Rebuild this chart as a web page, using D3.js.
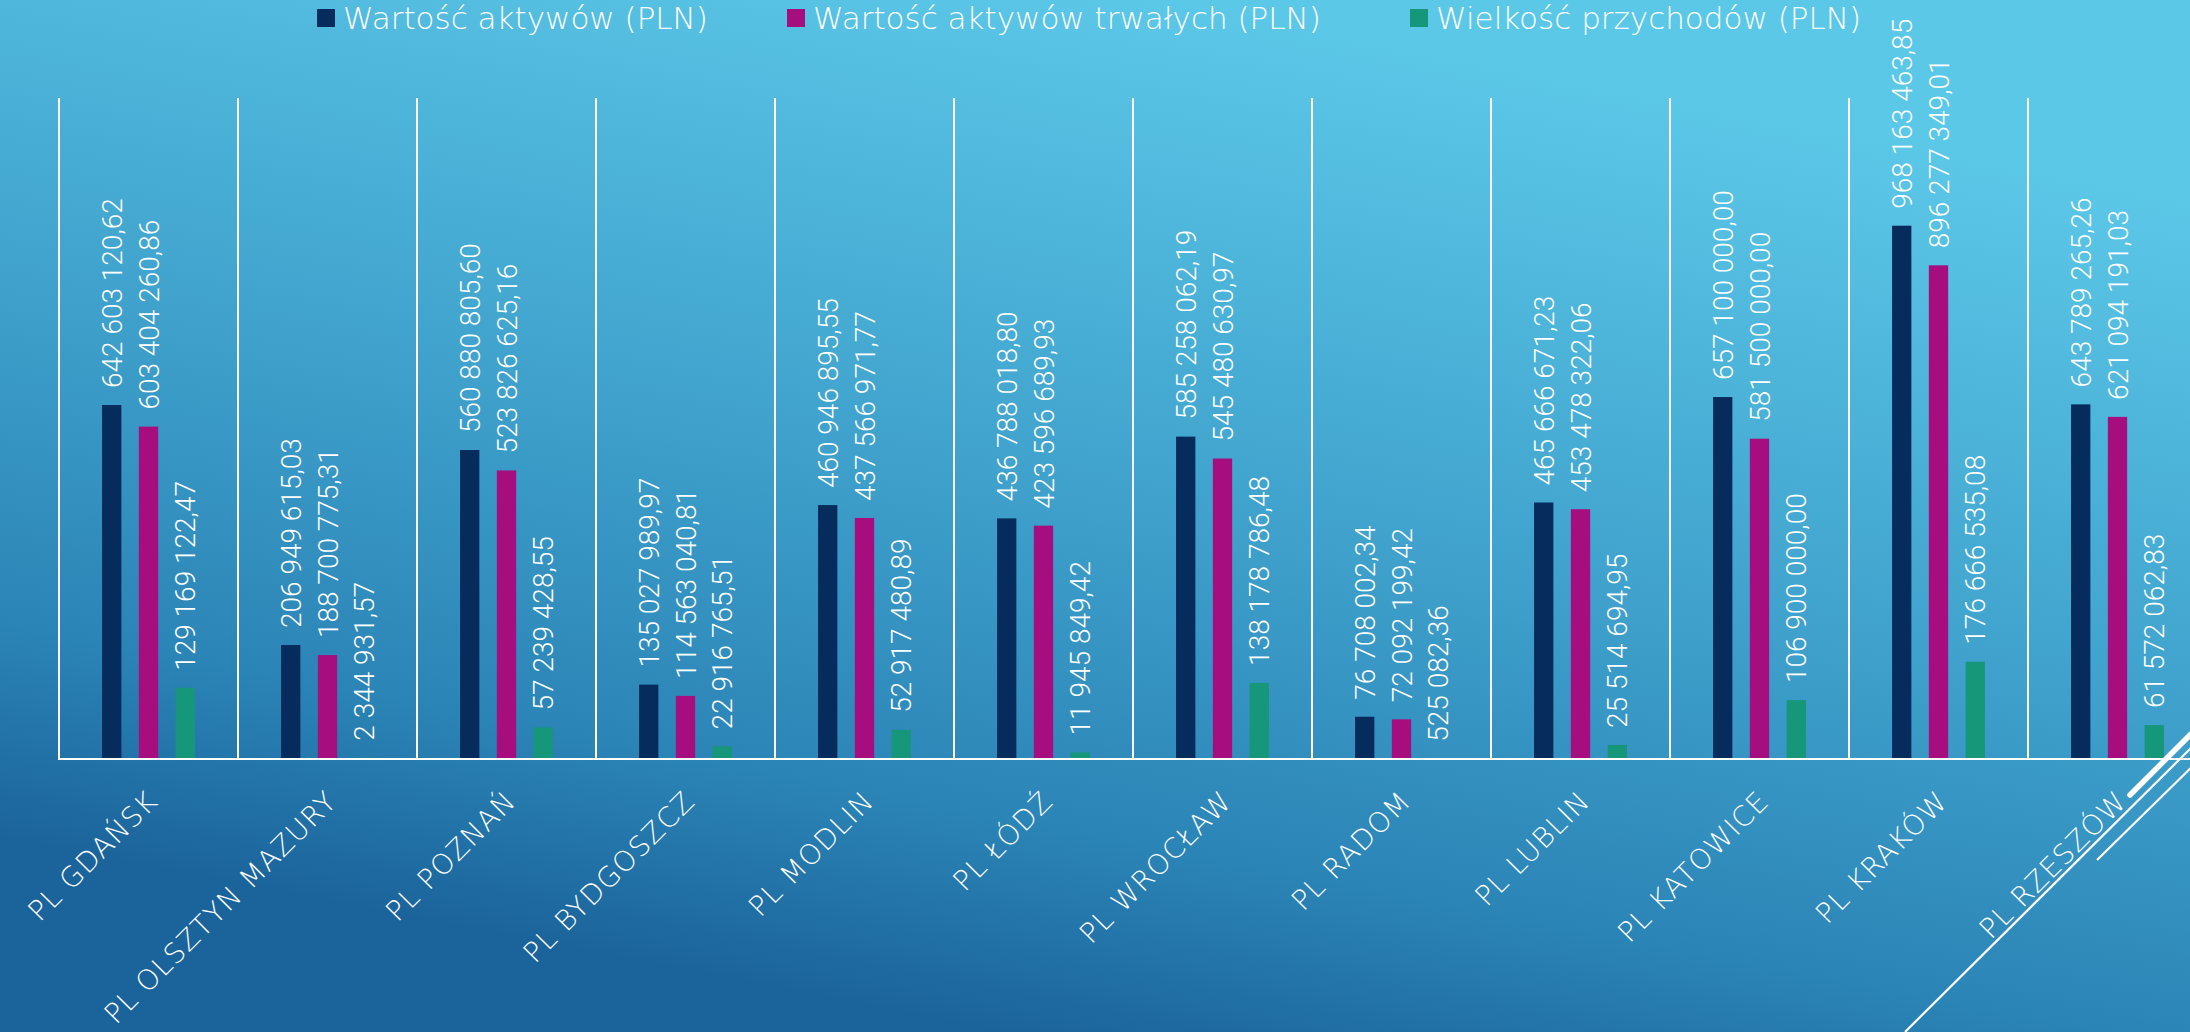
<!DOCTYPE html>
<html>
<head>
<meta charset="utf-8">
<script src="https://cdn.jsdelivr.net/npm/d3@7"></script>
<style>
  html, body { margin: 0; padding: 0; background: #2a86b8; }
  svg { display: block; }
</style>
</head>
<body>
<svg id="chart" width="2190" height="1032"></svg>
<script>
// ---- DATA ----
const categories = ["PL GDAŃSK", "PL OLSZTYN MAZURY", "PL POZNAŃ", "PL BYDGOSZCZ", "PL MODLIN", "PL ŁÓDŹ",
  "PL WROCŁAW", "PL RADOM", "PL LUBLIN", "PL KATOWICE", "PL KRAKÓW", "PL RZESZÓW"];
const seriesNames = ["Wartość aktywów (PLN)", "Wartość aktywów trwałych (PLN)", "Wielkość przychodów (PLN)"];
const assets = [642603120.62, 206949615.03, 560880805.60, 135027989.97, 460946895.55, 436788018.80,
  585258062.19, 76708002.34, 465666671.23, 657100000.00, 968163463.85, 643789265.26];
const fixedAssets = [603404260.86, 188700775.31, 523826625.16, 114563040.81, 437566971.77, 423596689.93,
  545480630.97, 72092199.42, 453478322.06, 581500000.00, 896277349.01, 621094191.03];
const revenues = [129169122.47, 2344931.57, 57239428.55, 22916765.51, 52917480.89, 11945849.42,
  138178786.48, 525082.36, 25514694.95, 106900000.00, 176666535.08, 61572062.83];
const seriesColors = ["#062c5d", "#a60e80", "#17977a"];
const yMax = 1.2e9;

// ---- LAYOUT ----
const W = 2190, H = 1032;
const plotLeft = 59, plotTop = 98, baseY = 759, catW = 179;
const legendX = [317, 787, 1410];

const svg = d3.select("#chart");
const defs = svg.append("defs");
const grad = defs.append("linearGradient").attr("id", "bg")
  .attr("gradientUnits", "userSpaceOnUse")
  .attr("x1", 1200).attr("y1", 0).attr("x2", 1000).attr("y2", 1032);
grad.append("stop").attr("offset", 0).attr("stop-color", "#5cc8e8");
grad.append("stop").attr("offset", 0.45).attr("stop-color", "#41a4ce");
grad.append("stop").attr("offset", 0.8).attr("stop-color", "#2b84b6");
grad.append("stop").attr("offset", 1).attr("stop-color", "#1b649b");
svg.append("rect").attr("width", W).attr("height", H).attr("fill", "url(#bg)");

const x = d3.scaleBand().domain(categories)
  .range([plotLeft, plotLeft + catW * categories.length]).padding(0);
const xs = d3.scaleBand().domain(seriesNames).range([0, x.bandwidth()])
  .paddingInner(0.475).paddingOuter(1.17);
const y = d3.scaleLinear().domain([0, yMax]).range([baseY, plotTop]);

const rows = categories.map((c, i) => ({ cat: c, vals: [assets[i], fixedAssets[i], revenues[i]] }));

// separators (category boundaries)
const bounds = categories.map(c => x(c)).concat([x.range()[1]]);
svg.append("g").selectAll("line").data(bounds).join("line")
  .attr("x1", d => d).attr("x2", d => d)
  .attr("y1", y(yMax)).attr("y2", y(0))
  .attr("stroke", "#ffffff").attr("stroke-width", 2);

// bars
const fmt = d3.formatLocale({ decimal: ",", thousands: " ", grouping: [3], currency: ["", ""] }).format(",.2f");
const groups = svg.append("g").selectAll("g").data(rows).join("g")
  .attr("transform", d => `translate(${x(d.cat)},0)`);
groups.selectAll("rect").data(d => d.vals.map((v, k) => ({ v, k }))).join("rect")
  .attr("x", d => xs(seriesNames[d.k]))
  .attr("width", xs.bandwidth())
  .attr("y", d => y(d.v))
  .attr("height", d => y(0) - y(d.v))
  .attr("fill", d => seriesColors[d.k]);
groups.selectAll("text").data(d => d.vals.map((v, k) => ({ v, k }))).join("text")
  .attr("transform", d => `translate(${xs(seriesNames[d.k]) + xs.bandwidth() / 2},${y(d.v) - 17}) rotate(-90)`)
  .attr("dy", "0.36em")
  .attr("text-anchor", "start")
  .attr("fill", "#ffffff")
  .style("font-family", "Roboto, 'Liberation Sans', sans-serif")
  .style("font-weight", 300)
  .style("font-size", "28px")
  .text(d => fmt(d.v));

// baseline
svg.append("line").attr("x1", plotLeft - 1).attr("x2", W)
  .attr("y1", y(0)).attr("y2", y(0))
  .attr("stroke", "#ffffff").attr("stroke-width", 2);

// category labels
svg.append("g").selectAll("text").data(categories).join("text")
  .attr("transform", c => `translate(${x(c) + x.bandwidth() / 2 + 11},${baseY + 44}) rotate(-45)`)
  .attr("text-anchor", "end")
  .attr("fill", "#ffffff")
  .style("font-family", "'DejaVu Sans', sans-serif")
  .style("font-weight", 200)
  .style("font-size", "28px")
  .style("letter-spacing", "1px")
  .text(c => c);

// legend
const legend = svg.append("g");
seriesNames.forEach((name, k) => {
  legend.append("rect").attr("x", legendX[k]).attr("y", 9).attr("width", 18).attr("height", 18)
    .attr("fill", seriesColors[k]);
  legend.append("text").attr("x", legendX[k] + 26).attr("y", 18).attr("dy", "0.36em")
    .attr("fill", "#ffffff")
    .style("font-family", "'DejaVu Sans', sans-serif")
    .style("font-weight", 200)
    .style("font-size", "31px")
    .text(name);
});

// decorative corner lines
const deco = svg.append("g").attr("stroke", "#ffffff").attr("fill", "none");
deco.append("line").attr("x1", 1905).attr("y1", 1032).attr("x2", 2200).attr("y2", 739).attr("stroke-width", 2.2);
deco.append("line").attr("x1", 2097).attr("y1", 860).attr("x2", 2200).attr("y2", 759).attr("stroke-width", 2.2);
deco.append("line").attr("x1", 2130).attr("y1", 795).attr("x2", 2210).attr("y2", 715)
  .attr("stroke-width", 5.5).attr("stroke-linecap", "round");
</script>
</body>
</html>
